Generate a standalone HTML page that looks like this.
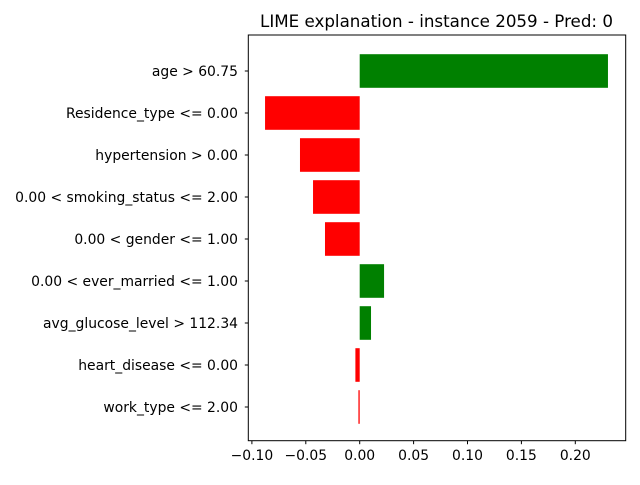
<!DOCTYPE html>
<html><head><meta charset="utf-8"><style>
body{margin:0;background:#fff;}
svg text{font-family:"DejaVu Sans","Liberation Sans",sans-serif;}
</style></head><body>
<svg id="chart" width="640" height="480" xmlns="http://www.w3.org/2000/svg">
<rect width="640" height="480" fill="#fff"/>
<text x="436.5" y="27" text-anchor="middle" font-size="16.7">LIME explanation - instance 2059 - Pred: 0</text>
<g id="bars"></g>
<g id="yticks"></g>
<g id="xticks"></g>
<rect x="248.3" y="35" width="377.4" height="405.7" fill="none" stroke="#000" stroke-width="1"/>
</svg>
<script>
const categories=["age > 60.75","Residence_type <= 0.00","hypertension > 0.00","0.00 < smoking_status <= 2.00","0.00 < gender <= 1.00","0.00 < ever_married <= 1.00","avg_glucose_level > 112.34","heart_disease <= 0.00","work_type <= 2.00"];
const weights=[0.2303,-0.0878,-0.0554,-0.0433,-0.0322,0.0226,0.0105,-0.004,-0.0012];
const xTicks=[-0.10,-0.05,0.00,0.05,0.10,0.15,0.20];
const xTickLabels=["\u22120.10","\u22120.05","0.00","0.05","0.10","0.15","0.20"];
const NS="http://www.w3.org/2000/svg";
const x0=359.7,k=1078;
function xs(v){return x0+v*k;}
const yTop=71,step=42,bh=33.6;
function ys(i){return yTop+i*step;}
const bars=document.getElementById('bars'),yt=document.getElementById('yticks'),xt=document.getElementById('xticks');
categories.forEach((c,i)=>{
 const w=weights[i];
 const r=document.createElementNS(NS,'rect');
 r.setAttribute('x',Math.min(xs(0),xs(w)));
 r.setAttribute('y',ys(i)-bh/2);
 r.setAttribute('width',Math.abs(xs(w)-xs(0)));
 r.setAttribute('height',bh);
 r.setAttribute('fill',w>=0?'#008000':'#ff0000');
 
 
 bars.appendChild(r);
 const l=document.createElementNS(NS,'line');
 l.setAttribute('x1',244.8);l.setAttribute('x2',248.3);l.setAttribute('y1',ys(i));l.setAttribute('y2',ys(i));l.setAttribute('stroke','#000');
 
 
 yt.appendChild(l);
 const t=document.createElementNS(NS,'text');
 t.setAttribute('x',238);t.setAttribute('y',ys(i)+5);t.setAttribute('text-anchor','end');t.setAttribute('font-size','13.9');
 t.textContent=c;
 
 
 yt.appendChild(t);
});
xTicks.forEach((v,i)=>{
 const l=document.createElementNS(NS,'line');
 l.setAttribute('x1',xs(v));l.setAttribute('x2',xs(v));l.setAttribute('y1',440.7);l.setAttribute('y2',444.2);l.setAttribute('stroke','#000');
 
 
 xt.appendChild(l);
 const t=document.createElementNS(NS,'text');
 t.setAttribute('x',xs(v));t.setAttribute('y',460);t.setAttribute('text-anchor','middle');t.setAttribute('font-size','13.9');
 t.textContent=xTickLabels[i];
 
 
 xt.appendChild(t);
});
</script>
</body></html>
